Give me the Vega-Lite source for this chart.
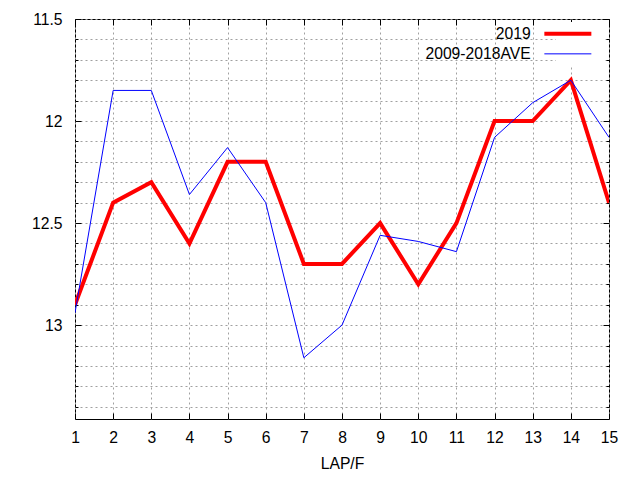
{
  "$schema": "https://vega.github.io/schema/vega-lite/v6.json",
  "width": 534,
  "height": 400,
  "autosize": {"type": "none"},
  "padding": {"left": 75, "top": 19, "right": 31, "bottom": 61},
  "background": "white",
  "config": {
    "view": {"stroke": "black", "strokeWidth": 1},
    "font": "Liberation Sans",
    "axis": {
      "domain": false,
      "tickColor": "black",
      "tickWidth": 1,
      "labelFlush": false,
      "labelFont": "Liberation Sans",
      "labelFontSize": 15.7,
      "labelColor": "black",
      "titleFont": "Liberation Sans",
      "titleFontSize": 15.7,
      "titleFontWeight": "normal",
      "titleColor": "black",
      "gridColor": "#a0a0a0",
      "gridDash": [2, 3],
      "gridWidth": 1
    }
  },
  "data": {
    "values": [
      {"lap": 1, "series": "2019", "time": 12.9},
      {"lap": 2, "series": "2019", "time": 12.4},
      {"lap": 3, "series": "2019", "time": 12.3},
      {"lap": 4, "series": "2019", "time": 12.6},
      {"lap": 5, "series": "2019", "time": 12.2},
      {"lap": 6, "series": "2019", "time": 12.2},
      {"lap": 7, "series": "2019", "time": 12.7},
      {"lap": 8, "series": "2019", "time": 12.7},
      {"lap": 9, "series": "2019", "time": 12.5},
      {"lap": 10, "series": "2019", "time": 12.8},
      {"lap": 11, "series": "2019", "time": 12.5},
      {"lap": 12, "series": "2019", "time": 12.0},
      {"lap": 13, "series": "2019", "time": 12.0},
      {"lap": 14, "series": "2019", "time": 11.8},
      {"lap": 15, "series": "2019", "time": 12.4},
      {"lap": 1, "series": "2009-2018AVE", "time": 12.94},
      {"lap": 2, "series": "2009-2018AVE", "time": 11.85},
      {"lap": 3, "series": "2009-2018AVE", "time": 11.85},
      {"lap": 4, "series": "2009-2018AVE", "time": 12.36},
      {"lap": 5, "series": "2009-2018AVE", "time": 12.13},
      {"lap": 6, "series": "2009-2018AVE", "time": 12.4},
      {"lap": 7, "series": "2009-2018AVE", "time": 13.16},
      {"lap": 8, "series": "2009-2018AVE", "time": 13.0},
      {"lap": 9, "series": "2009-2018AVE", "time": 12.56},
      {"lap": 10, "series": "2009-2018AVE", "time": 12.59},
      {"lap": 11, "series": "2009-2018AVE", "time": 12.64},
      {"lap": 12, "series": "2009-2018AVE", "time": 12.08},
      {"lap": 13, "series": "2009-2018AVE", "time": 11.91},
      {"lap": 14, "series": "2009-2018AVE", "time": 11.8},
      {"lap": 15, "series": "2009-2018AVE", "time": 12.08}
    ]
  },
  "layer": [
    {
      "transform": [{"filter": "datum.series == '2019'"}],
      "mark": {"type": "line", "strokeWidth": 4, "clip": true},
      "encoding": {
        "x": {
          "field": "lap", "type": "quantitative",
          "scale": {"domain": [1, 15], "nice": false, "zero": false},
          "axis": {
            "orient": "bottom", "title": "LAP/F", "values": [1,2,3,4,5,6,7,8,9,10,11,12,13,14,15],
            "grid": true, "tickSize": -6, "labelPadding": 17, "titlePadding": 12
          }
        },
        "y": {
          "field": "time", "type": "quantitative",
          "scale": {"domain": [11.5, 13.46], "nice": false, "zero": false, "reverse": true},
          "axis": {
            "orient": "left", "title": null,
            "values": [11.5,11.6,11.7,11.8,11.9,12,12.1,12.2,12.3,12.4,12.5,12.6,12.7,12.8,12.9,13,13.1,13.2,13.3,13.4],
            "format": "~g",
            "labelExpr": "indexof([11.5,12,12.5,13], datum.value) >= 0 ? datum.label : ''",
            "grid": true,
            "tickSize": {"condition": {"test": "indexof([11.5,12,12.5,13], datum.value) >= 0", "value": -6}, "value": -3},
            "labelPadding": 19
          }
        },
        "color": {
          "field": "series", "type": "nominal",
          "scale": {"domain": ["2019", "2009-2018AVE"], "range": ["#ff0000", "#0000ff"]},
          "legend": {
            "title": null,
            "orient": "none",
            "legendX": 481,
            "legendY": 3,
            "fillColor": "white",
            "padding": 4,
            "symbolType": "stroke",
            "symbolSize": 2209,
            "labelAlign": "right",
            "labelOffset": -45,
            "labelFont": "Liberation Sans",
            "labelFontSize": 15.7,
            "labelColor": "black",
            "rowPadding": 3,
            "encode": {"symbols": {"update": {"strokeWidth": {"signal": "datum.value == '2019' ? 4 : 1"}}}}
          }
        }
      }
    },
    {
      "transform": [{"filter": "datum.series == '2009-2018AVE'"}],
      "mark": {"type": "line", "strokeWidth": 1, "clip": true},
      "encoding": {
        "x": {"field": "lap", "type": "quantitative", "axis": null},
        "y": {"field": "time", "type": "quantitative", "axis": null},
        "color": {"field": "series", "type": "nominal"}
      }
    },
    {
      "mark": {"type": "point", "opacity": 0},
      "encoding": {
        "x": {
          "field": "lap", "type": "quantitative",
          "axis": {"orient": "top", "title": null, "labels": false, "grid": false,
                   "values": [1,2,3,4,5,6,7,8,9,10,11,12,13,14,15], "tickSize": -6}
        },
        "y": {
          "field": "time", "type": "quantitative",
          "axis": {"orient": "right", "title": null, "labels": false, "grid": false,
                   "values": [11.5,11.6,11.7,11.8,11.9,12,12.1,12.2,12.3,12.4,12.5,12.6,12.7,12.8,12.9,13,13.1,13.2,13.3,13.4],
                   "tickSize": {"condition": {"test": "indexof([11.5,12,12.5,13], datum.value) >= 0", "value": -6}, "value": -3}}
        }
      }
    }
  ],
  "resolve": {"axis": {"x": "independent", "y": "independent"}}
}
